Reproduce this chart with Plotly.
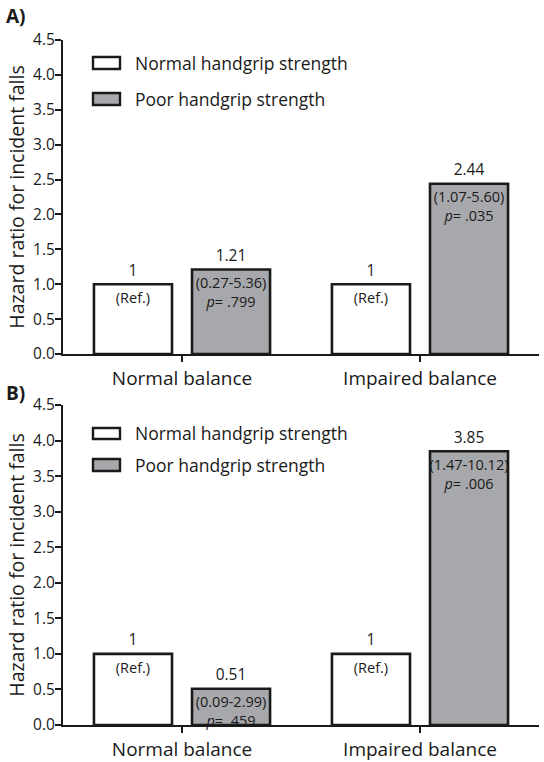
import plotly.graph_objects as go
from plotly.subplots import make_subplots

categories = ["Normal balance", "Impaired balance"]
series_names = ["Normal handgrip strength", "Poor handgrip strength"]

# Panel A
a_normal = [1, 1]
a_poor = [1.21, 2.44]
a_normal_lbl = ["1", "1"]
a_poor_lbl = ["1.21", "2.44"]
a_normal_inside = ["(Ref.)", "(Ref.)"]
a_poor_inside = ["(0.27-5.36)<br><i>p</i>= .799", "(1.07-5.60)<br><i>p</i>= .035"]

# Panel B
b_normal = [1, 1]
b_poor = [0.51, 3.85]
b_normal_lbl = ["1", "1"]
b_poor_lbl = ["0.51", "3.85"]
b_normal_inside = ["(Ref.)", "(Ref.)"]
b_poor_inside = ["(0.09-2.99)<br><i>p</i>= .459", "(1.47-10.12)<br><i>p</i>= .006"]

y_ticks = [0.0, 0.5, 1.0, 1.5, 2.0, 2.5, 3.0, 3.5, 4.0, 4.5]
y_title = "Hazard ratio for incident falls"

FONT = "Open Sans"
TXT = "#1a1a1a"
GRAY = "#a7a8ab"
EDGE = "#1a1a1a"
CLEAR = "rgba(0,0,0,0)"

W, H = 544, 762
ML, MR, MT, MB = 63, 5, 40, 37
PW, PH = W - ML - MR, H - MT - MB

fig = make_subplots(rows=2, cols=1, vertical_spacing=0.0)

panels = [
    (1, a_normal, a_poor, a_normal_lbl, a_poor_lbl, a_normal_inside, a_poor_inside),
    (2, b_normal, b_poor, b_normal_lbl, b_poor_lbl, b_normal_inside, b_poor_inside),
]
for row, nv, pv, nl, pl, ni, pi in panels:
    for name, vals, lbls, ins, fill, og in [
        (series_names[0], nv, nl, ni, "white", "n"),
        (series_names[1], pv, pl, pi, GRAY, "p"),
    ]:
        fig.add_trace(go.Bar(
            x=categories, y=vals, name=name,
            marker=dict(color=fill, line=dict(color=EDGE, width=2.6)),
            offsetgroup=og, showlegend=False, hoverinfo="skip",
        ), row=row, col=1)
        # value labels above bars
        fig.add_trace(go.Scatter(
            x=categories, y=vals, mode="markers+text", text=lbls,
            textposition="top center", cliponaxis=False,
            marker=dict(size=6, color=CLEAR),
            textfont=dict(family=FONT, size=15.5, color=TXT),
            offsetgroup=og, showlegend=False, hoverinfo="skip",
        ), row=row, col=1)
        # CI / p-value labels inside bars
        fig.add_trace(go.Scatter(
            x=categories, y=vals, mode="markers+text", text=ins,
            textposition="bottom center", cliponaxis=False,
            marker=dict(size=11, color=CLEAR),
            textfont=dict(family=FONT, size=14.5, color=TXT),
            offsetgroup=og, showlegend=False, hoverinfo="skip",
        ), row=row, col=1)

def py(y):
    return (H - MB - y) / PH

def px(x):
    return (x - ML) / PW

fig.update_layout(
    yaxis=dict(domain=[py(354), py(40)]),
    yaxis2=dict(domain=[py(725), py(405)]),
)

for r in (1, 2):
    fig.update_yaxes(
        range=[0, 4.5], tickvals=y_ticks, ticktext=[f"{v:.1f}" for v in y_ticks],
        ticks="outside", ticklen=6, tickwidth=2, tickcolor=EDGE,
        showline=True, linecolor=EDGE, linewidth=2, showgrid=False, zeroline=False,
        tickfont=dict(family=FONT, size=15.5, color=TXT),
        title=dict(text=y_title, font=dict(family=FONT, size=19.5, color=TXT), standoff=3),
        ticklabelstandoff=-3,
        row=r, col=1)
    fig.update_xaxes(
        range=[-0.5, 1.5], ticks="outside", ticklen=6, tickwidth=2, tickcolor=EDGE,
        showline=True, linecolor=EDGE, linewidth=2, showgrid=False, zeroline=False,
        tickfont=dict(family=FONT, size=19, color=TXT),
        row=r, col=1)

shapes = []
annotations = []
legend_rows = [
    [(57, 69, 63), (93, 105, 99)],
    [(428, 439, 433), (459, 471, 465)],
]
for rows in legend_rows:
    for (y0, y1, yc), name, fill in zip(rows, series_names, ["white", GRAY]):
        shapes.append(dict(type="rect", xref="paper", yref="paper",
                           x0=px(93), x1=px(120), y0=py(y1), y1=py(y0),
                           fillcolor=fill, line=dict(color=EDGE, width=2.4)))
        annotations.append(dict(xref="paper", yref="paper", x=px(133), y=py(yc),
                                text=name, showarrow=False, xanchor="left", yanchor="middle",
                                font=dict(family=FONT, size=17.5, color=TXT)))

for lbl, yc in [("A)", 16), ("B)", 393)]:
    annotations.append(dict(xref="paper", yref="paper", x=px(4), y=py(yc),
                            text=f"<b>{lbl}</b>", showarrow=False, xanchor="left", yanchor="middle",
                            font=dict(family=FONT, size=19, color=TXT)))

fig.update_layout(
    width=W, height=H,
    margin=dict(l=ML, r=MR, t=MT, b=MB, autoexpand=False),
    paper_bgcolor="white", plot_bgcolor="white",
    barmode="group", bargap=0.176, bargroupgap=0.204,
    scattermode="group",
    shapes=shapes, annotations=annotations,
    showlegend=False,
)

fig.write_html("out.html", config={"displayModeBar": False},
               post_script="document.body.style.margin='0';")
